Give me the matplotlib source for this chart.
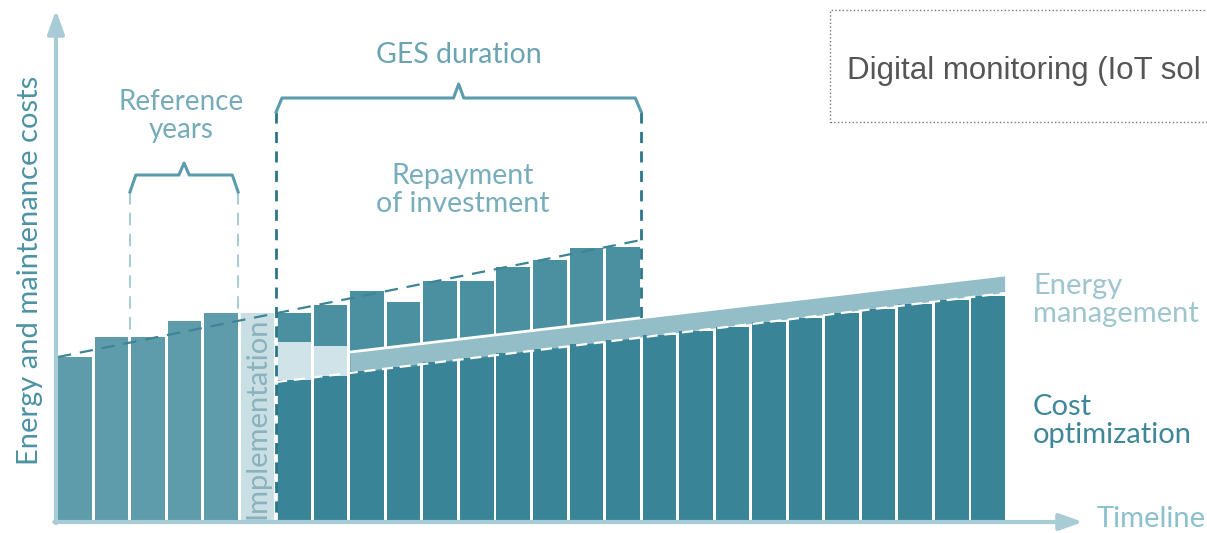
import matplotlib
matplotlib.use('Agg')
import matplotlib.pyplot as plt
from matplotlib.patches import Rectangle, Polygon
import numpy as np

# one slot per year: 0-4 reference years, 5 implementation, 6-25 GES years
reference_costs = [16.5, 18.5, 18.5, 20.1, 20.9]
implementation_cost = 20.9
repayment_tops = [20.9, 21.7, 23.1, 22.0, 24.1, 24.1, 25.5, 26.2, 27.4, 27.5]
transition_tops = [18.0, 17.6]
optimized_costs = [14.2, 14.6, 15.1, 15.5, 16.0, 16.4, 16.9, 17.3, 17.8, 18.2,
                   18.7, 19.1, 19.5, 20.0, 20.4, 20.9, 21.3, 21.8, 22.2, 22.6]

# straight trend lines (end points)
baseline_trend_x = [0, 15.96]
baseline_trend_y = [16.5, 28.2]
optimized_trend_x = [5.97, 25.92]
optimized_trend_y = [14.0, 22.9]
energy_mgmt_x = [8, 25.92]
energy_mgmt_y = [17.0, 24.7]

FONT = 'Lato'
W = 0.92


def brace(ax, x0, x1, y, drop, rise, color):
    xm = (x0 + x1) / 2
    xs = [x0, x0 + 0.16, xm - 0.14, xm, xm + 0.14, x1 - 0.16, x1]
    ys = [y - drop, y, y, y + rise, y, y, y - drop]
    ax.plot(xs, ys, color=color, lw=2.2, solid_joinstyle='round', zorder=6)


def main():
    fig = plt.figure(figsize=(12.07, 5.33), dpi=100)
    ax = fig.add_axes([0, 0, 1, 1])
    ax.set_xlim(-1.587, 31.445)
    ax.set_ylim(-1.1, 52.2)
    ax.axis('off')

    ref_x = np.arange(len(reference_costs))
    ax.bar(ref_x, reference_costs, W, align='edge', color='#5e9cab', zorder=2)
    ax.bar([5], [implementation_cost], W, align='edge', color='#c9dfe4', zorder=2)

    rep_x = 6 + np.arange(len(repayment_tops))
    ax.bar(rep_x, repayment_tops, W, align='edge', color='#4a90a1', zorder=2)
    ax.bar(6 + np.arange(len(transition_tops)), transition_tops, W, align='edge',
           color='#cfe3e8', zorder=3)

    # energy management band
    bx = np.array(energy_mgmt_x)
    bottom = np.interp(bx, optimized_trend_x, optimized_trend_y)
    band = Polygon([(bx[0], bottom[0]), (bx[1], bottom[1]),
                    (bx[1], energy_mgmt_y[1]), (bx[0], energy_mgmt_y[0])],
                   closed=True, color='#93bdc7', lw=0, zorder=3)
    ax.add_patch(band)
    ax.plot(energy_mgmt_x, energy_mgmt_y, color='white', lw=2, zorder=3.5)

    opt_x = 6 + np.arange(len(optimized_costs))
    ax.bar(opt_x, optimized_costs, W, align='edge', color='#3a8497', zorder=4)
    ax.plot(optimized_trend_x, optimized_trend_y, color='white', lw=1.6,
            dashes=(5, 3), zorder=5)
    ax.plot(baseline_trend_x, baseline_trend_y, color='#3d8596', lw=1.6,
            dashes=(6, 4), zorder=5)

    # vertical markers
    ax.plot([1.97, 1.97], [33.0, reference_costs[2]], color='#a9cdd5', lw=1.5,
            dashes=(6, 4), zorder=6)
    ax.plot([4.93, 4.93], [33.0, reference_costs[4]], color='#a9cdd5', lw=1.5,
            dashes=(6, 4), zorder=6)
    ax.plot([5.97, 5.97], [41.0, 0], color='#2d7689', lw=2, dashes=(4, 3),
            gapcolor='white', zorder=6)
    em_end = np.interp(15.96, energy_mgmt_x, energy_mgmt_y)
    ax.plot([15.96, 15.96], [41.0, em_end], color='#2d7689', lw=2, dashes=(4, 3),
            gapcolor='white', zorder=6)

    brace(ax, 1.97, 4.93, 34.7, 1.7, 1.2, '#5a9cac')
    brace(ax, 5.97, 15.96, 42.4, 1.4, 1.4, '#5a9cac')

    # axes arrows
    axis_col = '#a8ccd5'
    head = '-|>,head_length=1.4,head_width=0.5'
    ax.annotate('', xy=(-0.055, 51.2), xytext=(-0.055, -0.1),
                arrowprops=dict(arrowstyle=head, color=axis_col, lw=3,
                                shrinkA=0, shrinkB=0), zorder=7)
    ax.annotate('', xy=(28.05, 0), xytext=(-0.1, 0),
                arrowprops=dict(arrowstyle=head, color=axis_col, lw=3,
                                shrinkA=0, shrinkB=0), zorder=7)

    ax.text(-0.77, 25.2, 'Energy and maintenance costs', rotation=90, ha='center',
            va='center', fontsize=21, color='#4d93a5', family=FONT)
    ax.text(3.37, 40.6, 'Reference\nyears', ha='center', va='center', fontsize=20,
            color='#76abb9', family=FONT, linespacing=1.1)
    ax.text(10.97, 46.7, 'GES duration', ha='center', va='center', fontsize=20.5,
            color='#6aa4b3', family=FONT)
    ax.text(11.08, 33.2, 'Repayment\nof investment', ha='center', va='center',
            fontsize=20.5, color='#78adbb', family=FONT, linespacing=1.1)
    ax.text(5.45, 10.4, 'Implementation', rotation=90, ha='center', va='center',
            fontsize=21, color='#89b2bd', family=FONT, zorder=6)
    ax.text(26.68, 22.2, 'Energy\nmanagement', ha='left', va='center', fontsize=21,
            color='#9fc5ce', family=FONT, linespacing=1.1)
    ax.text(26.68, 10.1, 'Cost\noptimization', ha='left', va='center', fontsize=21,
            color='#3e8799', family=FONT, linespacing=1.1)
    ax.text(28.43, 0.3, 'Timeline', ha='left', va='center', fontsize=21,
            color='#8cc0cd', family=FONT)

    # dotted box with the caption, cropped at the right edge as in the source
    ax.add_patch(Rectangle((21.13, 40.0), 15, 11.2, fill=False, ls=':', lw=1,
                           edgecolor='#777777', zorder=6))
    ax.text(21.6, 45.1, 'Digital monitoring (IoT sol', ha='left',
            va='center', fontsize=22.5, color='#555555', family='Liberation Sans')

    fig.savefig('out.png', dpi=100)
    plt.close(fig)


if __name__ == "__main__":
    main()
